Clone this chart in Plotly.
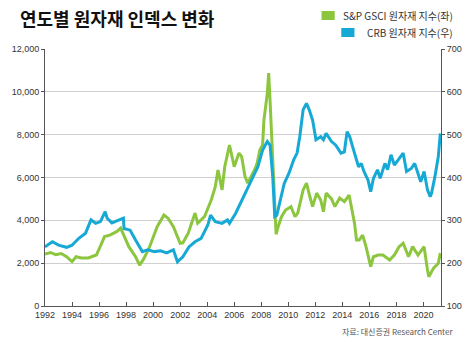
import plotly.graph_objects as go

series_names = ["S&P GSCI 원자재 지수(좌)", "CRB 원자재 지수(우)"]
title_text = "연도별 원자재 인덱스 변화"
source_text = "자료: 대신증권 Research Center"

gsci_x = [1992.0, 1992.4, 1992.8, 1993.2, 1993.6, 1994.0, 1994.3, 1994.7, 1995.2, 1995.5, 1995.8, 1996.1,
          1996.4, 1996.8, 1997.3, 1997.6, 1997.85, 1998.2, 1998.7, 1999.0, 1999.3, 1999.7, 2000.3, 2000.8,
          2001.1, 2001.5, 2002.0, 2002.2, 2002.6, 2003.1, 2003.3, 2003.8, 2004.3, 2004.6, 2004.8, 2005.1,
          2005.3, 2005.65, 2006.0, 2006.35, 2006.55, 2006.8, 2007.0, 2007.25, 2007.5, 2007.7, 2007.9, 2008.1,
          2008.2, 2008.45, 2008.55, 2008.65, 2008.8, 2009.0, 2009.1, 2009.25, 2009.5, 2009.8, 2010.2, 2010.5,
          2010.7, 2011.1, 2011.35, 2011.6, 2011.8, 2012.1, 2012.4, 2012.6, 2012.8, 2013.2, 2013.45, 2013.8,
          2014.15, 2014.5, 2014.7, 2014.9, 2015.05, 2015.25, 2015.5, 2015.75, 2016.1, 2016.3, 2016.65, 2017.0,
          2017.5, 2017.85, 2018.2, 2018.5, 2018.9, 2019.2, 2019.6, 2020.05, 2020.3, 2020.4, 2020.75, 2021.1, 2021.25]
gsci_y = [2430, 2500, 2400, 2450, 2300, 2070, 2300, 2240, 2240, 2300, 2380, 2800,
          3240, 3310, 3470, 3640, 3240, 2770, 2300, 1910, 2200, 2700, 3700, 4250,
          4100, 3700, 2930, 2950, 3400, 4340, 3870, 4170, 4950, 5570, 6350, 5420,
          6500, 7520, 6500, 7140, 6970, 6040, 5740, 6040, 6350, 6670, 7290, 7520,
          8690, 9940, 10870, 9620, 7610, 4950, 3350, 3700, 4170, 4480, 4640, 4170,
          4340, 5420, 5740, 5100, 4640, 5270, 4950, 4400, 5270, 5000, 4640, 5040,
          4870, 5180, 4480, 3870, 3080, 3080, 3310, 2770, 1840, 2300, 2380, 2380,
          2150, 2380, 2770, 2930, 2300, 2770, 2380, 2770, 1680, 1370, 1770, 1990, 2470]

crb_x = [1992.0, 1992.55, 1993.0, 1993.6, 1994.0, 1994.5, 1995.0, 1995.4, 1995.75, 1996.1, 1996.45, 1996.6,
         1996.95, 1997.3, 1997.8, 1997.85, 1998.3, 1998.7, 1999.2, 1999.6, 2000.1, 2000.55, 2001.0, 2001.5,
         2001.8, 2002.2, 2002.65, 2003.1, 2003.55, 2004.05, 2004.25, 2004.6, 2005.1, 2005.5, 2005.65, 2006.1,
         2006.55, 2007.05, 2007.4, 2007.75, 2008.1, 2008.45, 2008.65, 2008.85, 2009.0, 2009.15, 2009.35, 2009.7,
         2010.05, 2010.4, 2010.65, 2010.85, 2011.1, 2011.35, 2011.55, 2011.8, 2012.05, 2012.4, 2012.6, 2012.8,
         2013.2, 2013.5, 2013.9, 2014.15, 2014.35, 2014.55, 2014.9, 2015.2, 2015.4, 2015.6, 2015.9, 2016.1,
         2016.3, 2016.6, 2016.8, 2017.15, 2017.35, 2017.6, 2017.85, 2018.2, 2018.5, 2018.75, 2019.1, 2019.35,
         2019.6, 2019.8, 2020.05, 2020.3, 2020.5, 2020.6, 2020.85, 2021.1, 2021.25]
crb_y = [238, 250, 242, 237, 242, 258, 270, 301, 293, 297, 320, 305,
         294, 299, 305, 281, 277, 254, 227, 231, 227, 229, 224, 231,
         203, 215, 238, 250, 258, 289, 312, 297, 293, 301, 293, 316,
         347, 379, 402, 425, 464, 484, 476, 402, 309, 312, 340, 386,
         410, 441, 457, 495, 558, 573, 558, 534, 488, 495, 488, 503,
         484, 476, 457, 460, 507, 495, 457, 425, 433, 414, 394, 367,
         398, 418, 398, 433, 418, 453, 429, 445, 457, 414, 421, 433,
         406, 390, 414, 371, 355, 363, 402, 449, 503]

x_ticks = list(range(1992, 2021, 2))
left_ticks = [0, 2000, 4000, 6000, 8000, 10000, 12000]
right_ticks = [100, 200, 300, 400, 500, 600, 700]

GREEN = "#8cc63f"
BLUE = "#17a9d6"
TICK_FONT = dict(family="Liberation Sans Narrow, Liberation Sans, sans-serif", size=9, color="#333")

fig = go.Figure()
fig.add_trace(go.Scatter(x=gsci_x, y=gsci_y, mode="lines", name=series_names[0],
                         line=dict(color=GREEN, width=3), yaxis="y"))
fig.add_trace(go.Scatter(x=crb_x, y=crb_y, mode="lines", name=series_names[1],
                         line=dict(color=BLUE, width=3), yaxis="y2"))

fig.update_layout(
    width=474, height=340,
    margin=dict(l=34, r=19, t=49, b=34),
    paper_bgcolor="white", plot_bgcolor="white",
    showlegend=False,
    xaxis=dict(range=[1992, 2021.3], tickvals=x_ticks, ticks="inside", ticklen=4,
               tickcolor="#555", showline=True, linecolor="#555", linewidth=1,
               showgrid=False, zeroline=False, tickfont=TICK_FONT),
    yaxis=dict(range=[0, 12000], tickvals=left_ticks, tickformat=",", ticks="outside",
               ticklen=3, tickcolor="#555", showline=True, linecolor="#555", linewidth=1,
               showgrid=True, gridcolor="#cfcfcf", gridwidth=1, zeroline=False,
               tickfont=TICK_FONT),
    yaxis2=dict(range=[100, 700], tickvals=right_ticks, overlaying="y", side="right",
                ticks="outside", ticklen=3, tickcolor="#555", showline=True,
                linecolor="#555", linewidth=1, showgrid=False, zeroline=False,
                tickfont=TICK_FONT),
)

fig.add_annotation(text="<b>" + title_text + "</b>", xref="paper", yref="paper",
                   x=-29/421, y=1 + 31/257, xanchor="left", yanchor="middle", showarrow=False,
                   font=dict(family="Noto Sans CJK KR", size=18, color="#111"))

legend_font = dict(family="Liberation Sans Narrow, Noto Sans CJK KR", size=10, color="#333")
for i, (name, col) in enumerate(zip(series_names, [GREEN, BLUE])):
    yc = 15 + i * 17
    fig.add_annotation(text=name, xref="paper", yref="paper", x=(470 - 34) / 421,
                       y=(306 - yc) / 257, xanchor="right", yanchor="middle",
                       showarrow=False, font=legend_font)

fig.add_shape(type="rect", xref="paper", yref="paper", x0=(328 - 34) / 421, x1=(342 - 34) / 421,
              y0=(306 - 20) / 257, y1=(306 - 11) / 257, fillcolor=GREEN, line_width=0)
fig.add_shape(type="rect", xref="paper", yref="paper", x0=(349 - 34) / 421, x1=(363 - 34) / 421,
              y0=(306 - 37) / 257, y1=(306 - 28) / 257, fillcolor=BLUE, line_width=0)

fig.add_annotation(text=source_text, xref="paper", yref="paper", x=(470 - 34) / 421,
                   y=(306 - 331) / 257, xanchor="right", yanchor="middle", showarrow=False,
                   font=dict(family="Noto Sans CJK KR", size=8, color="#555"))

fig.write_html("out.html")
